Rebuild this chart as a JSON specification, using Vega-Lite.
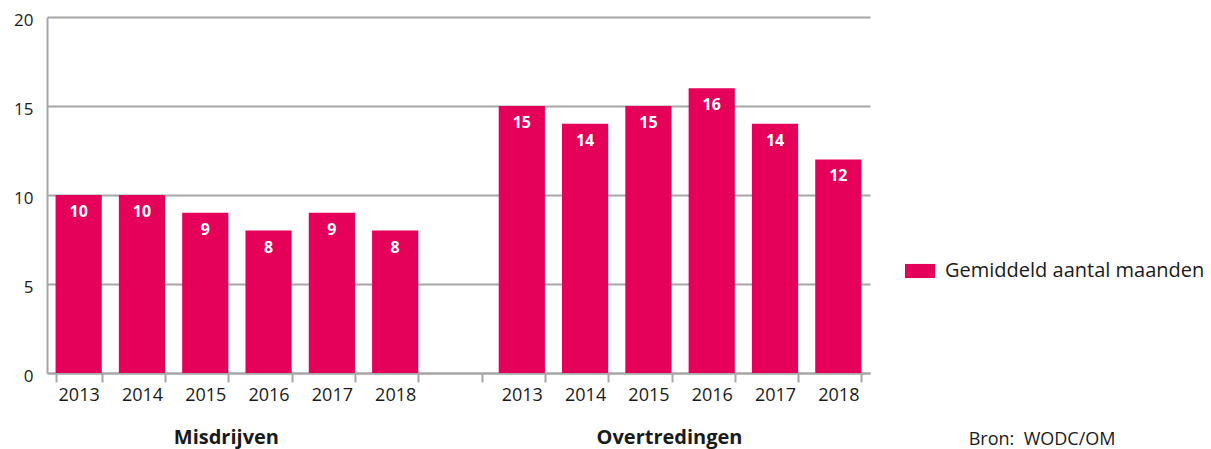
{
  "$schema": "https://vega.github.io/schema/vega-lite/v6.json",
  "width": 823,
  "height": 356,
  "autosize": "none",
  "padding": {"left": 47, "top": 17, "right": 341, "bottom": 76},
  "background": "white",
  "config": {"view": {"stroke": null}, "font": "Open Sans"},
  "datasets": {
    "bars": [
      {"cat": "M 2013", "groep": "Misdrijven", "jaar": "2013", "maanden": 10, "reeks": "Gemiddeld aantal maanden"},
      {"cat": "M 2014", "groep": "Misdrijven", "jaar": "2014", "maanden": 10, "reeks": "Gemiddeld aantal maanden"},
      {"cat": "M 2015", "groep": "Misdrijven", "jaar": "2015", "maanden": 9, "reeks": "Gemiddeld aantal maanden"},
      {"cat": "M 2016", "groep": "Misdrijven", "jaar": "2016", "maanden": 8, "reeks": "Gemiddeld aantal maanden"},
      {"cat": "M 2017", "groep": "Misdrijven", "jaar": "2017", "maanden": 9, "reeks": "Gemiddeld aantal maanden"},
      {"cat": "M 2018", "groep": "Misdrijven", "jaar": "2018", "maanden": 8, "reeks": "Gemiddeld aantal maanden"},
      {"cat": "O 2013", "groep": "Overtredingen", "jaar": "2013", "maanden": 15, "reeks": "Gemiddeld aantal maanden"},
      {"cat": "O 2014", "groep": "Overtredingen", "jaar": "2014", "maanden": 14, "reeks": "Gemiddeld aantal maanden"},
      {"cat": "O 2015", "groep": "Overtredingen", "jaar": "2015", "maanden": 15, "reeks": "Gemiddeld aantal maanden"},
      {"cat": "O 2016", "groep": "Overtredingen", "jaar": "2016", "maanden": 16, "reeks": "Gemiddeld aantal maanden"},
      {"cat": "O 2017", "groep": "Overtredingen", "jaar": "2017", "maanden": 14, "reeks": "Gemiddeld aantal maanden"},
      {"cat": "O 2018", "groep": "Overtredingen", "jaar": "2018", "maanden": 12, "reeks": "Gemiddeld aantal maanden"}
    ],
    "groepen": [
      {"cat": "M 2015", "groep": "Misdrijven", "pos": -3.65},
      {"cat": "O 2015", "groep": "Overtredingen", "pos": -3.65}
    ],
    "bron": [
      {"cat": "O 2018", "tekst": "Bron:\u00a0\u00a0WODC/OM", "pos": -4.05}
    ]
  },
  "layer": [
    {
      "data": {"name": "bars"},
      "mark": {"type": "bar"},
      "encoding": {
        "x": {
          "field": "cat", "type": "nominal",
          "scale": {"domain": ["M 2013", "M 2014", "M 2015", "M 2016", "M 2017", "M 2018", "gap", "O 2013", "O 2014", "O 2015", "O 2016", "O 2017", "O 2018"], "paddingInner": 0.27, "paddingOuter": 0.135},
          "axis": {
            "title": null, "labelAngle": 0, "tickBand": "extent", "tickSize": 9, "tickWidth": 2, "tickColor": "#a6a6a6",
            "domainColor": "#a6a6a6", "domainWidth": 2, "labelFontSize": 18, "labelColor": "#1a1a1a", "labelPadding": 4,
            "labelExpr": "isString(datum.value) && datum.value != 'gap' ? substring(datum.value, 2) : ''", "grid": false
          }
        },
        "y": {
          "field": "maanden", "type": "quantitative",
          "scale": {"domain": [0, 20], "nice": false},
          "axis": {
            "title": null, "values": [0, 5, 10, 15, 20], "ticks": false, "grid": true, "gridColor": "#a6a6a6", "gridWidth": 2,
            "domainColor": "#a6a6a6", "domainWidth": 2, "labelFontSize": 17, "labelColor": "#1a1a1a", "labelPadding": 14, "labelOffset": 3
          }
        },
        "color": {
          "field": "reeks", "type": "nominal",
          "scale": {"range": ["#e5005a"]},
          "legend": {
            "title": null, "orient": "none", "legendX": 858, "legendY": 239,
            "symbolType": "M-1,-0.47H1V0.47H-1Z", "symbolSize": 900, "symbolStrokeWidth": 0,
            "labelFontSize": 20, "labelColor": "#1a1a1a", "labelOffset": 10, "labelLimit": 400
          }
        }
      }
    },
    {
      "data": {"name": "bars"},
      "mark": {"type": "text", "baseline": "middle", "dy": 17, "color": "white", "fontWeight": "bold", "fontSize": 16},
      "encoding": {
        "x": {"field": "cat", "type": "nominal"},
        "y": {"field": "maanden", "type": "quantitative"},
        "text": {"field": "maanden", "type": "quantitative"}
      }
    },
    {
      "data": {"name": "groepen"},
      "mark": {"type": "text", "baseline": "middle", "fontWeight": "bold", "fontSize": 20, "color": "#1a1a1a", "dx": -2},
      "encoding": {
        "x": {"field": "cat", "type": "nominal", "bandPosition": 1},
        "y": {"field": "pos", "type": "quantitative"},
        "text": {"field": "groep", "type": "nominal"}
      }
    },
    {
      "data": {"name": "bron"},
      "mark": {"type": "text", "baseline": "alphabetic", "align": "right", "fontSize": 18, "color": "#1a1a1a", "dx": 254},
      "encoding": {
        "x": {"field": "cat", "type": "nominal", "bandPosition": 1},
        "y": {"field": "pos", "type": "quantitative"},
        "text": {"field": "tekst", "type": "nominal"}
      }
    }
  ]
}
